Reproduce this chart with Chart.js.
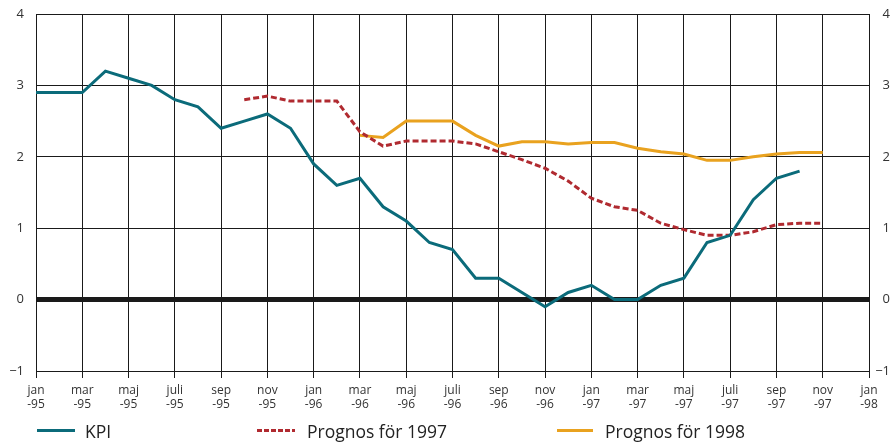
<!DOCTYPE html>
<html lang="sv">
<head>
<meta charset="utf-8">
<title>KPI och inflationsprognoser</title>
<script src="https://cdn.jsdelivr.net/npm/chart.js@4.4.1/dist/chart.umd.min.js"></script>
<style>
  html, body { margin: 0; padding: 0; background: #fff; }
  #wrap { position: relative; width: 890px; height: 442px; }
  #legend { position: absolute; left: 0; top: 0; width: 890px; height: 442px; pointer-events: none;
            font-family: "Open Sans", "Noto Sans", sans-serif; font-size: 17.5px; color: #222; }
  .sw { position: absolute; height: 3px; }
  .lbl { position: absolute; white-space: nowrap; line-height: 20px; }
</style>
</head>
<body>
<div id="wrap">
  <canvas id="c" width="890" height="442"></canvas>
  <div id="legend"></div>
</div>
<script>
// Månader jan-95 .. jan-98 (etikett varannan månad)
const months = ['jan','feb','mar','apr','maj','jun','juli','aug','sep','okt','nov','dec'];
const years = ['-95', '-96', '-97', '-98'];

// KPI, årlig förändring i procent
const kpi = [2.9, 2.9, 2.9, 3.2, 3.1, 3.0, 2.8, 2.7, 2.4, 2.5, 2.6, 2.4,
             1.9, 1.6, 1.7, 1.3, 1.1, 0.8, 0.7, 0.3, 0.3, 0.1, -0.1, 0.1,
             0.2, 0.0, 0.0, 0.2, 0.3, 0.8, 0.9, 1.4, 1.7, 1.8, null, null,
             null];

// Prognos för 1997
const prognos1997 = [null, null, null, null, null, null, null, null, null, 2.8, 2.85, 2.78,
                     2.78, 2.78, 2.35, 2.15, 2.22, 2.22, 2.22, 2.18, 2.07, 1.96, 1.84, 1.66,
                     1.42, 1.3, 1.25, 1.07, 0.98, 0.9, 0.9, 0.95, 1.05, 1.07, 1.07, null,
                     null];

// Prognos för 1998
const prognos1998 = [null, null, null, null, null, null, null, null, null, null, null, null,
                     null, null, 2.3, 2.27, 2.5, 2.5, 2.5, 2.3, 2.15, 2.21, 2.21, 2.18,
                     2.2, 2.2, 2.12, 2.07, 2.04, 1.95, 1.95, 2.0, 2.04, 2.06, 2.06, null,
                     null];

const yTicks = [-1, 0, 1, 2, 3, 4];

const seriesNames = ['KPI', 'Prognos för 1997', 'Prognos för 1998'];
const colors = ['#0b6b7a', '#b02a30', '#e9a21f'];

// Kategorier: en per månad, 37 st
const categories = [];
for (let i = 0; i <= 36; i++) {
  categories.push([months[i % 12], years[Math.floor(i / 12)]]);
}

const FONT = '"Open Sans", "Noto Sans", sans-serif';
const gridDark = '#1a1a1a';

// Fast bredd på y-axlarna utan extra utfyllnad i över- och underkant
const fitY = (w) => (s) => { s.width = w; s.paddingTop = 0; s.paddingBottom = 0; };

const chart = new Chart(document.getElementById('c'), {
  type: 'line',
  data: {
    labels: categories,
    datasets: [
      { label: seriesNames[0], data: kpi, borderColor: colors[0], borderWidth: 3,
        pointRadius: 0, tension: 0, spanGaps: false },
      { label: seriesNames[1], data: prognos1997, borderColor: colors[1], borderWidth: 3,
        borderDash: [6, 3], pointRadius: 0, tension: 0, spanGaps: false },
      { label: seriesNames[2], data: prognos1998, borderColor: colors[2], borderWidth: 3,
        pointRadius: 0, tension: 0, spanGaps: false }
    ]
  },
  options: {
    responsive: false,
    animation: false,
    layout: { padding: { top: 14, left: 0, right: 0, bottom: 0 } },
    plugins: { legend: { display: false }, tooltip: { enabled: false } },
    scales: {
      x: {
        type: 'category',
        offset: false,
        afterFit: (s) => { s.height = 71; s.paddingLeft = 0; s.paddingRight = 0; },
        grid: {
          color: (ctx) => (ctx.index % 2 === 0 ? gridDark : 'rgba(0,0,0,0)'),
          lineWidth: 1,
          drawTicks: true,
          tickLength: 7
        },
        border: { display: false },
        ticks: {
          autoSkip: false,
          maxRotation: 0,
          minRotation: 0,
          padding: 6,
          color: '#333',
          font: { family: FONT, size: 12, lineHeight: 1.17 },
          callback: function (value, index) {
            return index % 2 === 0 ? categories[index] : '';
          }
        }
      },
      y: {
        position: 'left',
        min: yTicks[0],
        max: yTicks[yTicks.length - 1],
        afterFit: fitY(36),
        afterBuildTicks: (s) => { s.ticks = yTicks.map(v => ({ value: v })); },
        grid: {
          color: gridDark,
          lineWidth: (ctx) => (ctx.tick && ctx.tick.value === 0 ? 5 : 1),
          drawTicks: false
        },
        border: { display: false },
        ticks: {
          padding: 12,
          color: '#333',
          font: { family: FONT, size: 13 },
          callback: (v) => (v < 0 ? '\u2212' + Math.abs(v) : String(v))
        }
      },
      y2: {
        display: true,
        position: 'right',
        min: yTicks[0],
        max: yTicks[yTicks.length - 1],
        afterFit: fitY(21),
        afterBuildTicks: (s) => { s.ticks = yTicks.map(v => ({ value: v })); },
        grid: { drawOnChartArea: false, drawTicks: false },
        border: { display: false },
        ticks: {
          padding: 5,
          crossAlign: 'far',
          color: '#333',
          font: { family: FONT, size: 13 },
          callback: (v) => (v < 0 ? '\u2212' + Math.abs(v) : String(v))
        }
      }
    }
  }
});

// Teckenförklaring under diagrammet
const legendItems = [
  { x: 37, w: 38, tx: 85 },
  { x: 257, w: 38, tx: 307 },
  { x: 557, w: 36, tx: 605 }
];
const legend = document.getElementById('legend');
legendItems.forEach((it, i) => {
  const sw = document.createElement('div');
  sw.className = 'sw';
  sw.style.left = it.x + 'px';
  sw.style.top = '429px';
  sw.style.width = it.w + 'px';
  if (i === 1) {
    sw.style.background = 'repeating-linear-gradient(90deg, ' + colors[i] + ' 0 5px, transparent 5px 7px)';
  } else {
    sw.style.background = colors[i];
  }
  legend.appendChild(sw);
  const t = document.createElement('div');
  t.className = 'lbl';
  t.style.left = it.tx + 'px';
  t.style.top = '421px';
  t.textContent = seriesNames[i];
  legend.appendChild(t);
});
</script>
</body>
</html>
